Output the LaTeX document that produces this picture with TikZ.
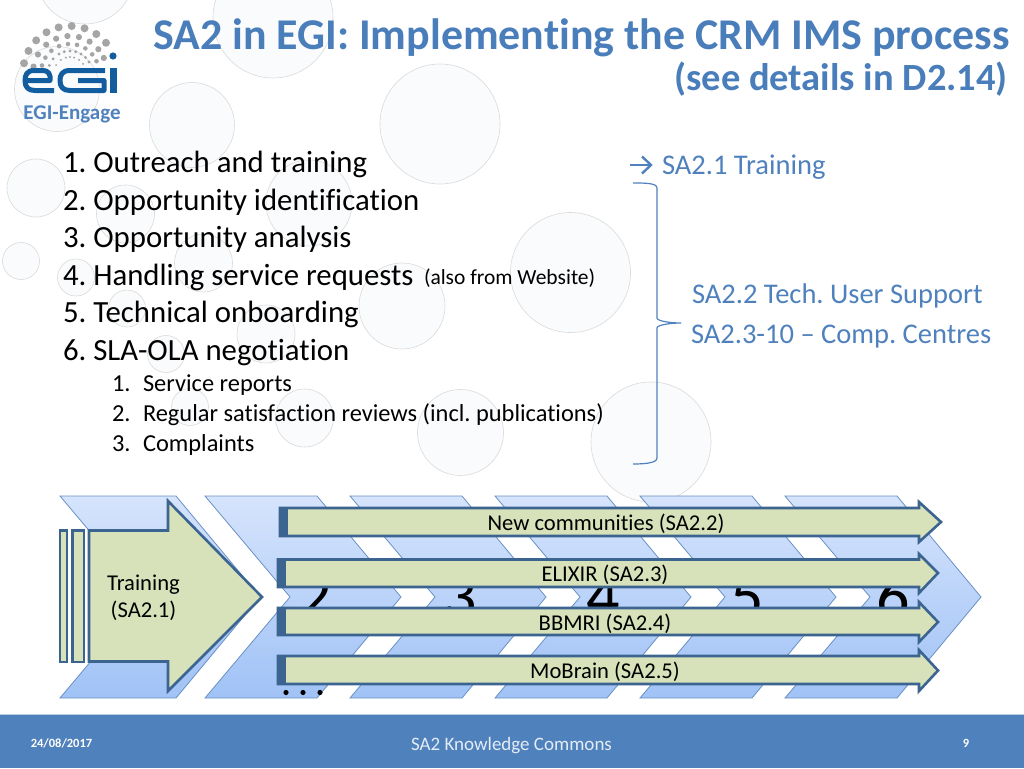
\documentclass[tikz,border=0pt]{standalone}
\usepackage{fontspec}
\setmainfont{Carlito}[Ligatures=CommonOff]
\definecolor{egiblue}{RGB}{79,129,189}
\definecolor{titleblue}{RGB}{74,126,187}
\definecolor{barfill}{RGB}{215,225,186}
\definecolor{barline}{RGB}{60,100,145}
\definecolor{chevline}{RGB}{105,145,195}
\definecolor{chevtop}{RGB}{214,228,252}
\definecolor{chevbot}{RGB}{160,194,246}
\definecolor{bubblefill}{RGB}{250,251,252}
\definecolor{bubbleline}{RGB}{218,218,218}
\definecolor{logoblue}{RGB}{18,92,160}
\definecolor{logogrey}{RGB}{165,165,165}
\newcommand{\fs}[1]{\fontsize{#1}{#1}\selectfont}
\frenchspacing
\tikzset{
  bubble/.style={draw=bubbleline,fill=bubblefill,line width=0.6pt},
  chev/.style={draw=chevline,line width=0.8pt,top color=chevtop,bottom color=chevbot},
  barshape/.style={draw=barline,fill=barfill,line width=2.6pt,line join=miter},
  bartail/.style={fill=barline,draw=none},
  txt/.style={inner sep=0pt,outer sep=0pt,anchor=base west},
  ctxt/.style={inner sep=0pt,outer sep=0pt,anchor=base},
  mainitem/.style={txt,font=\fs{30.8}},
  subitem/.style={txt,font=\fs{24.4}},
  sidetxt/.style={txt,font=\fs{28.5},text=egiblue},
  bartxt/.style={ctxt,font=\fs{22.6}},
  digit/.style={ctxt,font=\fs{66}},
  logostroke/.style={draw=logoblue,line width=5pt,line cap=butt,line join=round},
}
\begin{document}
\begin{tikzpicture}[x=1pt,y=-1pt]
\useasboundingbox (0,0) rectangle (1024,768);
\fill[white] (0,0) rectangle (1024,768);
% background bubbles
\foreach \cx/\cy/\r in {85/-25/49,273/18/60,57/89/42.5,192/125/42.5,440/124/60,36/188/29,125.5/214/29,309/203/43,570.5/272.5/60,21/261/18.5,76/277.5/18.5,203.5/263/29,127/308.5/18.5,402/306/43,266/334/29,166/354/18.5,190/407/18.5,304.5/418/29,460.5/432.5/43,651/442/60}
  {\draw[bubble] (\cx,\cy) circle[radius=\r];}
% logo
\foreach \R/\rad/\angs in {47/4/{168,152,136,120,104,88,72,56,40},37/3.1/{170,150,130,112,94,76,58,40,24},29/2.3/{165,148,130,112,94,76,58,40,24},22/1.6/{160,140,120,105,90,75,60,45,30},16/1.1/{150,125,105,90,75,55,35}}
  {\foreach \a in \angs {\fill[logogrey] ({70+\R*cos(\a)},{73-\R*sin(\a)}) circle[radius=\rad];}}
\fill[logoblue] (113,56) circle[radius=3.6];
\draw[logostroke] (25,80.5) -- (50,80.5) .. controls (51,74) and (48,70.5) .. (43,70.5) -- (34,70.5) .. controls (27,70.5) and (25,75) .. (25,80.5) .. controls (25,87) and (28,90.5) .. (35,90.5) -- (54,90.5);
\draw[logostroke] (105,70.5) -- (70,70.5) .. controls (62,70.5) and (60,75) .. (60,80.5) .. controls (60,87) and (63,90.5) .. (70,90.5) -- (104,90.5) -- (104,80.5) -- (78,80.5);
\fill[logoblue] (110,68) rectangle (117,93);
\node[ctxt,font=\fs{21}\bfseries,text=egiblue] (logotxt) at (72,119) {EGI-Engage};
% title
\node[inner sep=0pt,anchor=base east,font=\fs{43.9}\bfseries,text=titleblue] (title) at (1010,49) {SA2 in EGI: Implementing the CRM IMS process};
\node[inner sep=0pt,anchor=base east,font=\fs{38.5}\bfseries,text=titleblue] (subtitle) at (1008,90.5) {(see details in D2.14)};
% list
\node[mainitem] (m1) at (63,172) {1. Outreach and training};
\node[mainitem] (m2) at (63,210) {2. Opportunity identification};
\node[mainitem] (m3) at (63,247) {3. Opportunity analysis};
\node[mainitem] (m4) at (63,285) {4. Handling service requests};
\node[txt,font=\fs{21.5}] (m4b) at (424,284) {(also from Website)};
\node[mainitem] (m5) at (63,322) {5. Technical onboarding};
\node[mainitem] (m6) at (63,360) {6. SLA-OLA negotiation};
\node[subitem] (s1n) at (112,391) {1.};
\node[subitem] (s1) at (143,391) {Service reports};
\node[subitem] (s2n) at (112,421) {2.};
\node[subitem] (s2) at (143,421) {Regular satisfaction reviews (incl. publications)};
\node[subitem] (s3n) at (112,451) {3.};
\node[subitem] (s3) at (143,451) {Complaints};
% right column
\draw[egiblue,line width=2.4pt] (630,165) -- (650,165);
\draw[egiblue,line width=2.4pt] (642,156.5) -- (651,165) -- (642,173.5);
\node[sidetxt] (r1) at (662,174) {SA2.1 Training};
\node[sidetxt] (r2) at (692,303) {SA2.2 Tech. User Support};
\node[sidetxt] (r3) at (691,343) {SA2.3-10 – Comp. Centres};
\draw[egiblue,line width=1.2pt] (633,183) .. controls (645,183) and (657,183) .. (657,188) -- (657,318) .. controls (657,321) and (670,323) .. (681,323) .. controls (670,323) and (657,325) .. (657,328) -- (657,458) .. controls (657,463) and (645,464) .. (633,464);
% chevrons
\path[chev] (60,496) -- (176,496) -- (260,597) -- (176,698) -- (60,698) -- (145,597) -- cycle;
\foreach \l in {205,350,495,640,785}
  {\path[chev] (\l,496) -- (\l+112,496) -- (\l+196,597) -- (\l+112,698) -- (\l,698) -- (\l+85,597) -- cycle;}
% chevron digits
\node[digit] (d2) at (315,618) {2};
\node[digit] (d3) at (460,618) {3};
\node[digit] (d4) at (603,618) {4};
\node[digit] (d5) at (747,618) {5};
\node[digit] (d6) at (893,618) {6};
\fill (286,692.5) circle[radius=2.6] (303,692.5) circle[radius=2.6] (320,692.5) circle[radius=2.6];
% training arrow
\draw[barline,fill=barfill,line width=2.2pt] (60,530.5) rectangle (67,662);
\draw[barline,fill=barfill,line width=2.6pt] (72.5,530.5) rectangle (84,662);
\draw[barshape] (89,530.5) -- (168,530.5) -- (168,501) -- (262,597) -- (168,691) -- (168,661.5) -- (89,661.5) -- cycle;
\node[ctxt,font=\fs{22.6}] (tr1) at (143.5,590) {Training};
\node[ctxt,font=\fs{22.6}] (tr2) at (143.5,617) {(SA2.1)};
% process bars
\foreach \nm/\xl/\top/\bot/\htop/\hbot/\tip/\cy/\lab/\lx in {
  a/280/508/536/502/542/941/522/New communities (SA2.2)/606,
  b/278/559.5/587/554/593/938/573/ELIXIR (SA2.3)/605,
  c/278/608/635/602/642/938/622/BBMRI (SA2.4)/605,
  d/278/656/684/650/691/938/670.5/MoBrain (SA2.5)/605}{
  \draw[barshape] (\xl,\top) -- (919,\top) -- (919,\htop) -- (\tip,\cy) -- (919,\hbot) -- (919,\bot) -- (\xl,\bot) -- cycle;
  \fill[bartail] (\xl-1,\top-1) rectangle (\xl+8,\bot+1);
  \node[bartxt] (\nm) at (\lx,\cy+8) {\lab};
}
% footer
\fill[egiblue] (0,714) rectangle (1024,768);
\draw[white!60!egiblue,line width=0.8pt] (0,714) -- (1024,714);
\node[ctxt,font=\fs{12.5}\bfseries,text=white] (fdate) at (61.5,747) {24/08/2017};
\node[ctxt,font=\fs{19},text=white!85!egiblue] (ftitle) at (511.5,750) {SA2 Knowledge Commons};
\node[ctxt,font=\fs{12.5}\bfseries,text=white] (fnum) at (966,747) {9};
\end{tikzpicture}
\end{document}
